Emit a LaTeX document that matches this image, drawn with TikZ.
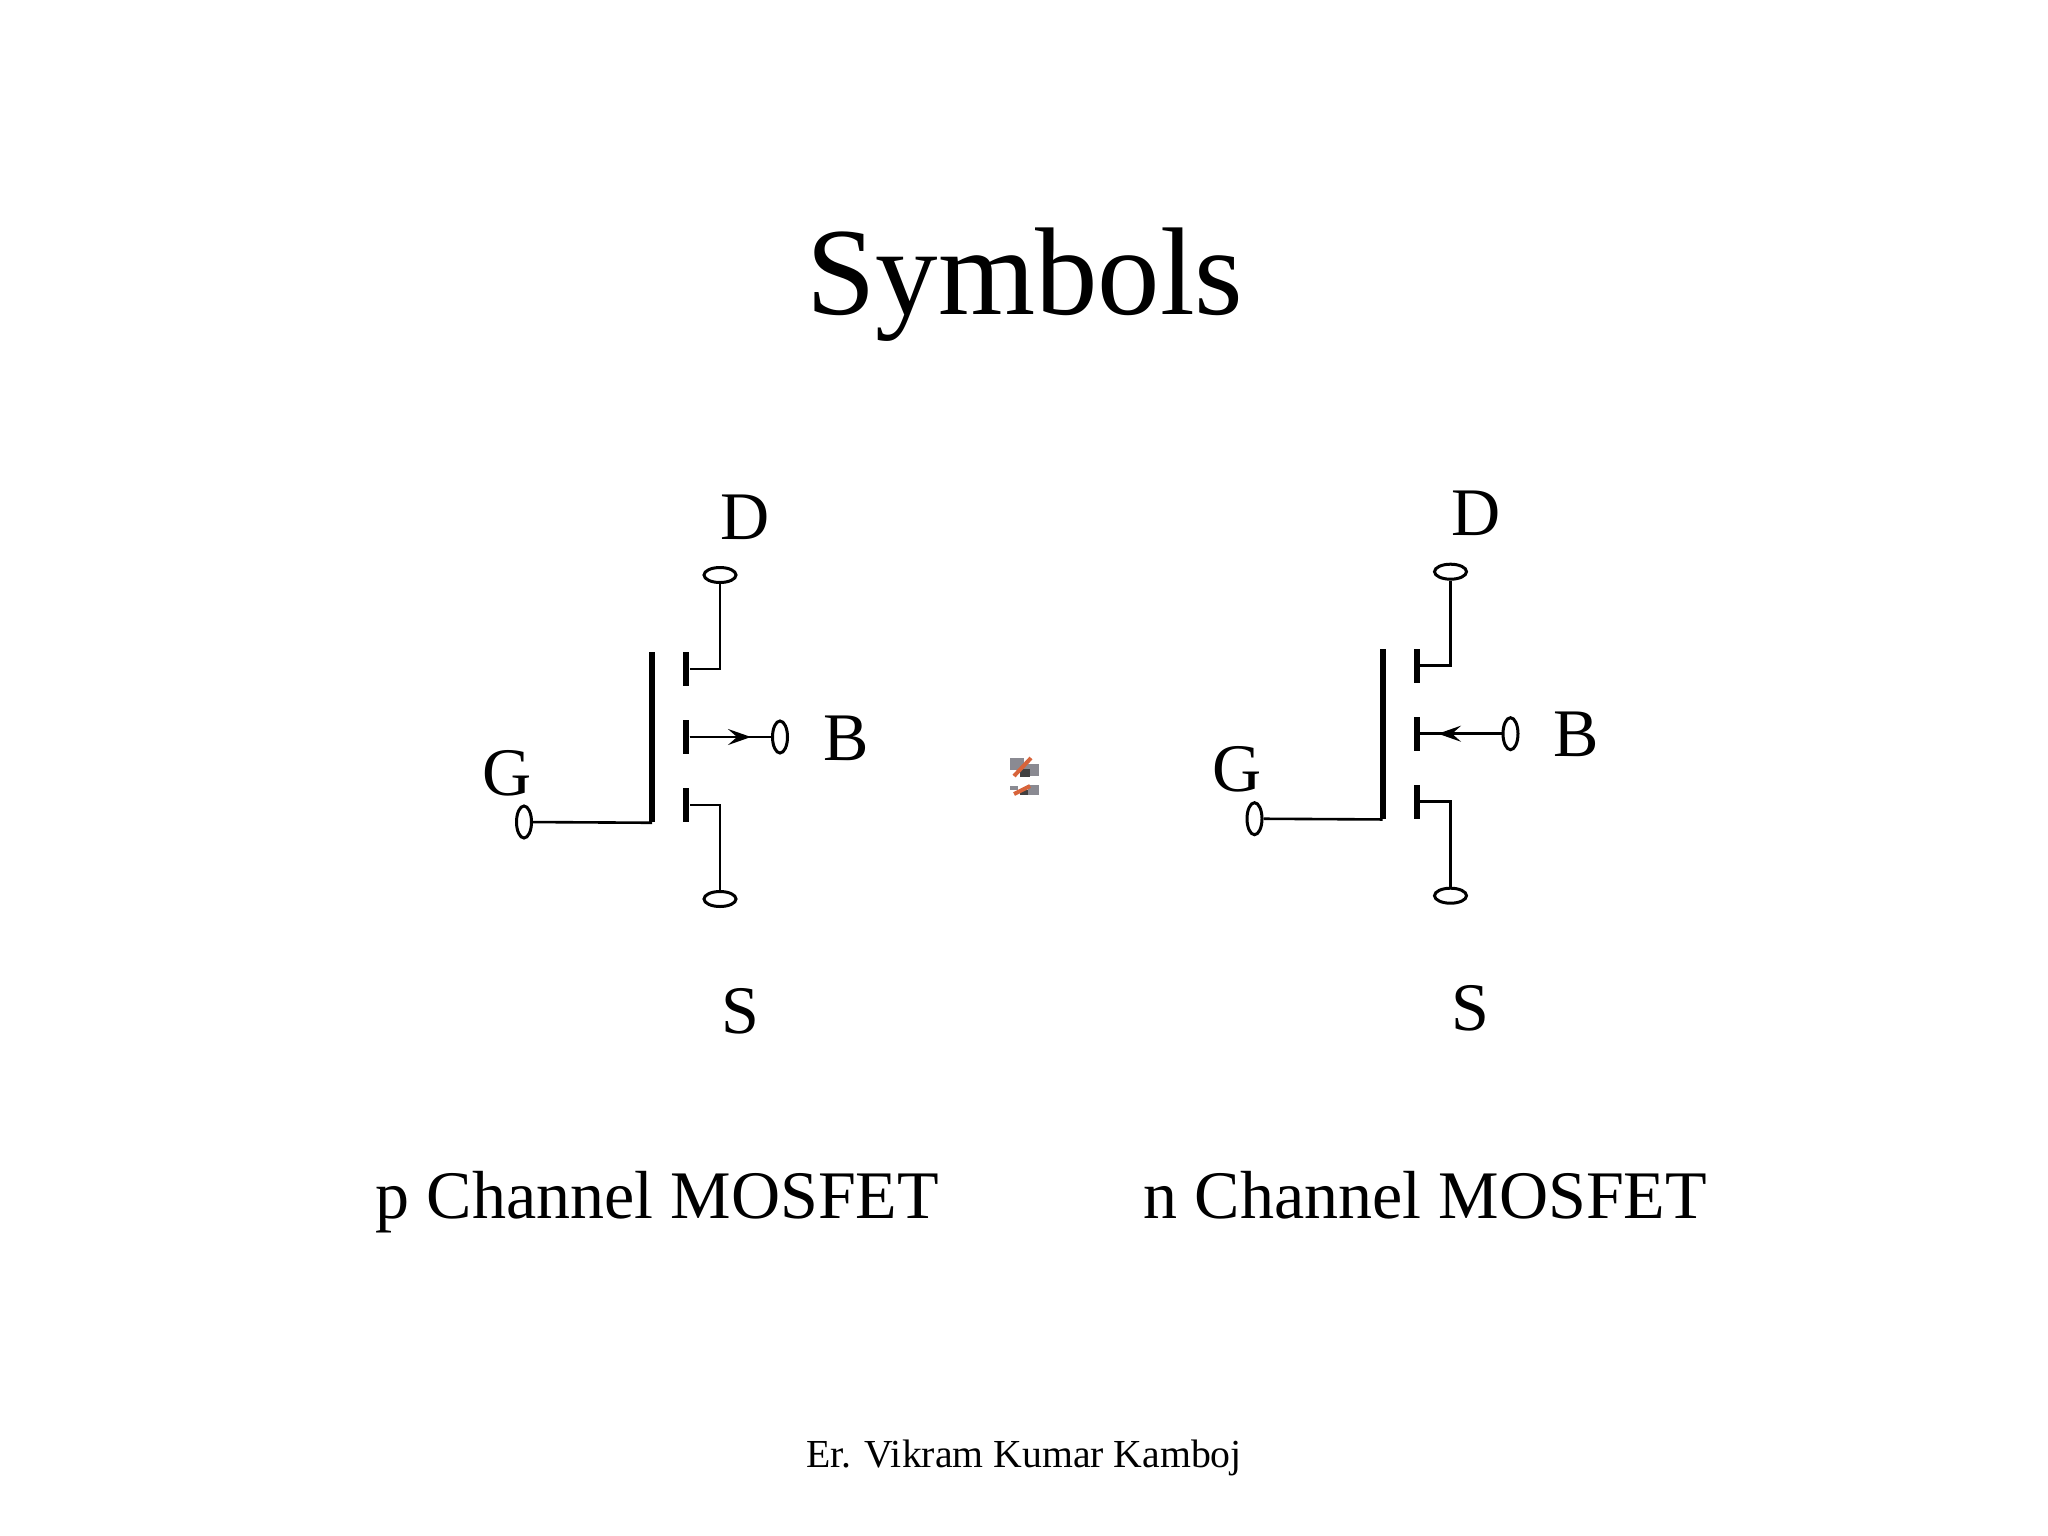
\documentclass[tikz,border=0pt]{standalone}
\usepackage{fontspec}
\setmainfont{Liberation Serif}
\usetikzlibrary{arrows.meta,shapes.geometric}
\definecolor{blobgray}{HTML}{8A8A92}
\definecolor{blobred}{HTML}{D8643A}
\tikzset{
  titletext/.style={anchor=base, inner sep=0pt, font=\fontsize{35.5}{40}\selectfont},
  labeltext/.style={anchor=base west, inner sep=0pt, font=\fontsize{19.35}{23}\selectfont},
  foottext/.style={anchor=base, inner sep=0pt, font=\fontsize{11.3}{14}\selectfont},
  wire/.style={line width=0.026cm, black},
  pinh/.style={ellipse, draw, line width=0.03cm, fill=white, inner sep=0pt, minimum width=0.32cm, minimum height=0.15cm},
  pinv/.style={ellipse, draw, line width=0.03cm, fill=white, inner sep=0pt, minimum width=0.15cm, minimum height=0.32cm},
  chanbar/.style={rectangle, fill=black, inner sep=0pt, minimum width=0.06cm, minimum height=0.34cm},
  gatebar/.style={rectangle, fill=black, inner sep=0pt, minimum width=0.06cm, minimum height=1.70cm},
  bodytip/.style={-{Stealth[length=0.23cm, width=0.16cm, inset=0.09cm]}},
}
\begin{document}
\begin{tikzpicture}[x=0.01cm, y=-0.01cm]
\useasboundingbox (0, 0) rectangle (2048, 1536);

% Title and captions
\node[titletext] (title) at (1025, 314) {Symbols};
\node[labeltext] (pcaption) at (375, 1218.5) {p Channel MOSFET};
\node[labeltext] (ncaption) at (1143, 1218.5) {n Channel MOSFET};
\node[foottext] (footer) at (1024, 1467) {Er. Vikram Kumar Kamboj};

% p channel symbol
\node[gatebar] (gatep) at (652, 737) {};
\node[chanbar] (dbarp) at (686, 669) {};
\node[chanbar] (bbarp) at (686, 737) {};
\node[chanbar] (sbarp) at (686, 805) {};
\node[pinh] (dpinp) at (720, 575) {};
\node[pinh] (spinp) at (720, 899) {};
\node[pinv] (bpinp) at (780, 737) {};
\node[pinv] (gpinp) at (524, 822) {};
\coordinate (dcornerp) at (720, 669);
\coordinate (scornerp) at (720, 805);
\coordinate (btipp) at (751, 737);
\draw[wire] (dpinp) -- (dcornerp) -- (dbarp);
\draw[wire] (spinp) -- (scornerp) -- (sbarp);
\draw[wire] (gpinp) -- (gatep.south);
\draw[wire] (bbarp) -- (bpinp);
\draw[wire, bodytip] (bbarp) -- (btipp);
\node[labeltext] (dlabelp) at (720, 539) {D};
\node[labeltext] (blabelp) at (823, 760) {B};
\node[labeltext] (glabelp) at (482, 795) {G};
\node[labeltext] (slabelp) at (721, 1033.5) {S};

% n channel symbol
\node[gatebar] (gaten) at (1382.5, 733.7) {};
\node[chanbar] (dbarn) at (1416.5, 665.7) {};
\node[chanbar] (bbarn) at (1416.5, 733.7) {};
\node[chanbar] (sbarn) at (1416.5, 801.7) {};
\node[pinh] (dpinn) at (1450.5, 571.7) {};
\node[pinh] (spinn) at (1450.5, 895.7) {};
\node[pinv] (bpinn) at (1510.5, 733.7) {};
\node[pinv] (gpinn) at (1254.5, 818.7) {};
\coordinate (dcornern) at (1450.5, 665.7);
\coordinate (scornern) at (1450.5, 801.7);
\coordinate (btipn) at (1438, 733.7);
\draw[wire] (dpinn) -- (dcornern) -- (dbarn);
\draw[wire] (spinn) -- (scornern) -- (sbarn);
\draw[wire] (gpinn) -- (gaten.south);
\draw[wire] (bpinn) -- (bbarn);
\draw[wire, bodytip] (bpinn) -- (btipn);
\node[labeltext] (dlabeln) at (1450.5, 535.7) {D};
\node[labeltext] (blabeln) at (1552.5, 756.7) {B};
\node[labeltext] (glabeln) at (1212, 791.7) {G};
\node[labeltext] (slabeln) at (1451, 1030.5) {S};

% Small speck between the symbols
\fill[blobgray] (1010, 758) rectangle (1024, 770);
\fill[blobgray] (1024, 764) rectangle (1039, 776);
\fill[black!75] (1020, 769) rectangle (1030, 777);
\draw[blobred, line width=0.04cm] (1014, 776) -- (1031, 758);
\fill[blobgray] (1010, 786) rectangle (1018, 790);
\fill[blobgray] (1028, 785) rectangle (1039, 795);
\fill[black!75] (1020, 790) rectangle (1028, 795);
\draw[blobred, line width=0.04cm] (1014, 794) -- (1030, 786);
\end{tikzpicture}
\end{document}
